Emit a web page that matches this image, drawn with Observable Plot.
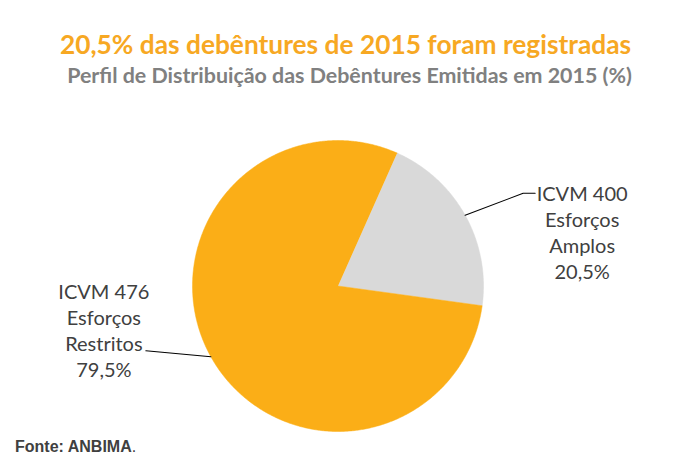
<!DOCTYPE html>
<html><head><meta charset="utf-8">
<script src="https://cdn.jsdelivr.net/npm/d3@7"></script>
<script src="https://cdn.jsdelivr.net/npm/@observablehq/plot@0.6"></script>
<style>
html,body{margin:0;padding:0;background:#fff;}
#wrap{position:relative;width:691px;height:471px;overflow:hidden;font-family:Lato,"Open Sans",sans-serif;}
#title{position:absolute;left:0;width:691px;top:27px;text-align:center;font-weight:bold;font-size:26.3px;color:#F7A823;line-height:34px;padding-left:0px;box-sizing:border-box;}
#subtitle{position:absolute;left:4px;width:691px;top:61px;text-align:center;font-weight:bold;font-size:21.4px;color:#808080;line-height:28px;}
#chart{position:absolute;left:0;top:100px;}
#caption{position:absolute;left:15px;top:437px;font-family:"Liberation Sans",Arial,sans-serif;font-size:16px;color:#404040;line-height:20px;}
</style></head>
<body><div id="wrap">
<div id="title">20,5% das debêntures de 2015 foram registradas</div>
<div id="subtitle">Perfil de Distribuição das Debêntures Emitidas em 2015 (%)</div>
<div id="chart"></div>
<div id="caption"><b>Fonte: ANBIMA</b>.</div>
</div>
<script>
// ---- data ----
const categories = ["ICVM 400", "ICVM 476"];
const values = [20.5, 79.5];
const labels = ["ICVM 400\nEsforços\nAmplos\n20,5%", "ICVM 476\nEsforços\nRestritos\n79,5%"];
const colors = ["#D9D9D9", "#FBAE17"];

// ---- layout ----
const W = 691, H = 338;
const cx = 337.5, cy = 185.5, R = 145.5;
const startDeg = 24;
// pixel offsets from the slice mid-angle point on the rim
const leaderOffsets = [[[58, -22], [70, -22]], [[-65, -6]]];
const labelOffsets = [[117, 16.5], [-107, -27]];

const pie = d3.pie().sort(null).value((d, i) => values[i])
  .startAngle(startDeg * Math.PI / 180).endAngle(startDeg * Math.PI / 180 + 2 * Math.PI);
const arcs = pie(categories);

const polar = (a, r) => [r * Math.sin(a), r * Math.cos(a)];
const sliceRows = [];
arcs.forEach((a, i) => {
  sliceRows.push({cat: categories[i], x: 0, y: 0});
  const n = Math.max(8, Math.ceil((a.endAngle - a.startAngle) / (Math.PI / 360)));
  for (let k = 0; k <= n; k++) {
    const t = a.startAngle + (a.endAngle - a.startAngle) * k / n;
    const [x, y] = polar(t, 1);
    sliceRows.push({cat: categories[i], x, y});
  }
});

const leaderRows = [];
const labelRows = [];
arcs.forEach((a, i) => {
  const mid = (a.startAngle + a.endAngle) / 2;
  const [mx, my] = polar(mid, 1);
  leaderRows.push({cat: categories[i], x: mx, y: my});
  leaderOffsets[i].forEach(([dx, dy]) => leaderRows.push({cat: categories[i], x: mx + dx / R, y: my - dy / R}));
  labelRows.push({text: labels[i], x: mx + labelOffsets[i][0] / R, y: my - labelOffsets[i][1] / R});
});

const plot = Plot.plot({
  width: W, height: H,
  margin: 0,
  style: {background: "transparent", overflow: "visible"},
  x: {axis: null, domain: [-1, 1], range: [cx - R, cx + R]},
  y: {axis: null, domain: [-1, 1], range: [cy + R, cy - R]},
  color: {domain: categories, range: colors},
  marks: [
    Plot.line(sliceRows, {x: "x", y: "y", z: "cat", fill: "cat", stroke: "cat", strokeWidth: 0.5, curve: "linear"}),
    Plot.line(leaderRows, {x: "x", y: "y", z: "cat", stroke: "#000", strokeWidth: 1.1}),
    Plot.text(labelRows, {x: "x", y: "y", text: "text", fill: "#404040", fontSize: 20, fontFamily: "Lato", lineHeight: 1.29, textAnchor: "middle", lineAnchor: "middle"})
  ]
});
document.getElementById("chart").appendChild(plot);
</script>
</body></html>
